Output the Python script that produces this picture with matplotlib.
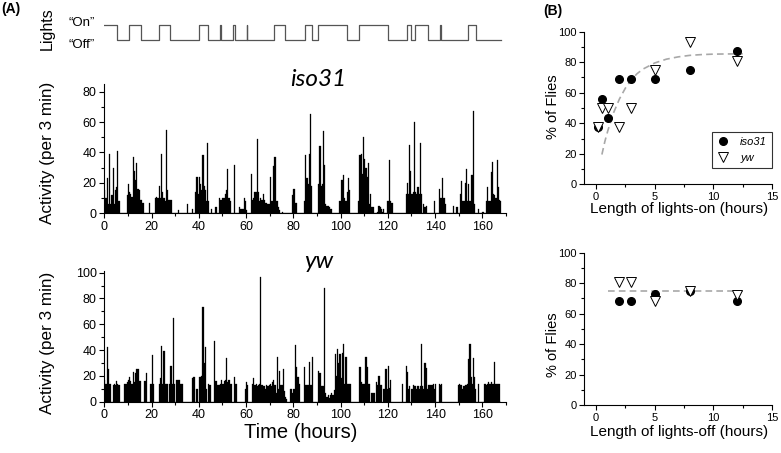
import numpy as np
import matplotlib
matplotlib.use("Agg")
import matplotlib.pyplot as plt
from matplotlib.ticker import MultipleLocator

plt.rcParams['font.family'] = ['Liberation Sans', 'DejaVu Sans']

# lights schedule: switch times (hours), state of each segment (1 = on, 0 = off)
light_edges = [0, 5.5, 10.3, 15.4, 23.1, 27.9, 40.0, 43.7, 49.1, 49.3, 54.3, 55.4,
               60.3, 60.5, 71.9, 76.4, 84.8, 87.8, 90.6, 102.9, 107.8, 120.0, 128.1,
               129.9, 131.6, 136.9, 142.1, 142.3, 154.0, 157.5, 168.0]
light_states = [1, 0, 1, 0, 1, 0, 1, 0, 1, 0, 1, 0, 1, 0, 1, 0, 1, 0, 1, 0, 1, 0,
                1, 0, 1, 0, 1, 0, 1, 0]

bin_width = 0.5
iso31_activity = [
    15, 10, 23, 6, 39, 6, 12, 30, 6, 15, 17, 41, 8, 0, 0, 0, 0, 0, 0, 12, 19, 14, 13, 11,
    37, 28, 22, 33, 16, 15, 9, 9, 7, 7, 0, 0, 0, 0, 7, 0, 0, 0, 0, 10, 11, 10, 18, 10,
    39, 14, 10, 8, 55, 15, 9, 9, 9, 0, 0, 0, 0, 0, 2, 0, 0, 0, 0, 0, 0, 0, 6, 0,
    0, 0, 3, 0, 0, 14, 24, 13, 24, 19, 15, 38, 18, 15, 8, 46, 8, 0, 3, 0, 0, 0, 4, 0,
    0, 10, 9, 9, 10, 10, 13, 15, 29, 10, 8, 0, 0, 0, 32, 0, 0, 0, 4, 3, 3, 3, 10, 8,
    2, 0, 0, 0, 26, 9, 10, 14, 14, 49, 14, 8, 10, 9, 13, 9, 7, 7, 6, 6, 24, 8, 8, 31,
    37, 8, 8, 4, 2, 0, 1, 0, 0, 0, 0, 0, 0, 0, 0, 12, 16, 7, 7, 0, 0, 0, 0, 0,
    0, 8, 38, 23, 19, 39, 65, 18, 0, 0, 0, 0, 0, 19, 44, 18, 19, 54, 32, 6, 5, 5, 4, 3,
    3, 0, 0, 0, 0, 0, 0, 8, 22, 22, 25, 10, 8, 14, 23, 15, 0, 0, 0, 0, 0, 0, 0, 8,
    38, 39, 26, 50, 36, 30, 24, 33, 6, 13, 4, 4, 0, 0, 0, 1, 5, 4, 3, 1, 3, 0, 0, 8,
    8, 35, 8, 7, 0, 0, 0, 0, 0, 0, 0, 0, 0, 0, 0, 13, 20, 13, 45, 28, 13, 14, 60, 14,
    13, 17, 13, 46, 13, 0, 6, 4, 5, 0, 0, 0, 0, 0, 0, 8, 0, 0, 0, 16, 10, 10, 23, 10,
    6, 0, 0, 0, 0, 0, 0, 5, 0, 0, 4, 0, 0, 13, 21, 8, 8, 20, 29, 8, 19, 8, 25, 25,
    67, 6, 0, 0, 3, 0, 0, 0, 1, 0, 0, 8, 17, 8, 8, 27, 34, 13, 12, 10, 35, 17, 9, 8,
]
yw_activity = [
    17, 14, 42, 25, 14, 14, 0, 13, 14, 13, 16, 14, 13, 0, 0, 0, 0, 14, 14, 15, 17, 19, 16, 14,
    23, 15, 22, 25, 25, 16, 16, 0, 0, 0, 16, 22, 0, 0, 0, 14, 36, 14, 0, 0, 0, 0, 14, 18,
    43, 14, 39, 14, 14, 14, 0, 14, 28, 14, 65, 14, 0, 17, 17, 17, 14, 14, 14, 0, 0, 0, 0, 0,
    0, 0, 18, 19, 19, 0, 10, 0, 19, 19, 20, 73, 30, 42, 10, 0, 14, 13, 0, 0, 0, 47, 16, 13,
    13, 13, 14, 17, 14, 16, 17, 34, 15, 17, 14, 14, 0, 0, 19, 14, 0, 0, 0, 0, 0, 0, 0, 10,
    15, 13, 0, 0, 0, 14, 18, 13, 14, 12, 13, 14, 97, 13, 12, 12, 10, 13, 12, 13, 14, 12, 15, 17,
    13, 7, 35, 10, 24, 13, 13, 25, 8, 4, 2, 0, 0, 10, 10, 7, 10, 44, 27, 19, 19, 14, 0, 0,
    0, 27, 13, 13, 13, 31, 13, 13, 35, 0, 0, 0, 0, 24, 22, 12, 12, 12, 88, 7, 4, 5, 3, 5,
    7, 5, 9, 37, 20, 41, 30, 37, 18, 38, 45, 14, 35, 14, 14, 14, 14, 0, 0, 0, 0, 0, 0, 0,
    27, 15, 14, 14, 14, 35, 27, 14, 14, 0, 7, 7, 7, 0, 15, 13, 20, 13, 13, 0, 10, 10, 25, 10,
    28, 11, 17, 0, 0, 0, 0, 0, 0, 0, 0, 0, 14, 0, 0, 28, 23, 10, 12, 0, 10, 13, 12, 12,
    10, 12, 10, 12, 45, 12, 10, 30, 26, 10, 13, 13, 13, 13, 14, 10, 14, 0, 0, 14, 13, 14, 0, 0,
    0, 0, 0, 0, 0, 0, 0, 0, 0, 0, 0, 13, 14, 13, 13, 10, 12, 13, 13, 14, 33, 45, 19, 14,
    34, 19, 10, 0, 14, 0, 0, 0, 0, 14, 14, 13, 14, 15, 14, 15, 14, 14, 31, 14, 14, 14, 14, 0,
]

# (B) percent of flies vs length of lights-on
on_len_iso = [0.17, 0.5, 1, 2, 3, 5, 8, 12]
on_pct_iso = [37.5, 56, 43.5, 69, 69, 69, 75, 87.5]
on_len_yw = [0.17, 0.5, 1, 2, 3, 5, 8, 12]
on_pct_yw = [37.5, 50, 50, 37.5, 50, 75, 93.5, 81]
on_fit_x = [0.5, 0.75, 1, 1.5, 2, 2.5, 3, 3.5, 4, 5, 6, 7, 8, 9, 10, 11, 12.5]
on_fit_y = [19.5, 28, 35, 47, 56, 63, 68.5, 72.5, 75.5, 79.5, 82, 83.5, 84.5, 85, 85.3, 85.4, 85.5]

# (B) percent of flies vs length of lights-off
off_len_iso = [2, 3, 5, 8, 12]
off_pct_iso = [68.5, 68.5, 73, 75, 68.5]
off_len_yw = [2, 3, 5, 8, 12]
off_pct_yw = [81, 81, 68.5, 75, 72.5]
off_fit_x = [1, 12.5]
off_fit_y = [74.6, 74.6]


def style_axes(ax, labelsize):
    ax.spines['top'].set_visible(False)
    ax.spines['right'].set_visible(False)
    ax.tick_params(which='both', direction='out', labelsize=labelsize, width=0.8, pad=2)
    ax.tick_params(which='major', length=3.5)
    ax.tick_params(which='minor', length=2)


fig = plt.figure(figsize=(7.81, 4.53), dpi=100)
W, H = 781.0, 453.0

# lights trace
ax_l = fig.add_axes([104.3 / W, 1 - 45 / H, 401.7 / W, 25 / H])
ax_l.step(light_edges, light_states + [light_states[-1]], where='post', color='#555555', lw=0.9)
ax_l.set_xlim(0, 170)
ax_l.set_ylim(-0.333, 1.333)
ax_l.axis('off')

t = np.arange(len(iso31_activity)) * bin_width

ax1 = fig.add_axes([104.3 / W, 1 - 213.3 / H, 401.7 / W, 129.3 / H])
ax1.bar(t, iso31_activity, width=bin_width, align='edge', color='black', edgecolor='black', linewidth=0.2)
ax1.set_xlim(0, 170)
ax1.set_ylim(0, 85)
ax1.xaxis.set_major_locator(MultipleLocator(20))
ax1.xaxis.set_minor_locator(MultipleLocator(10))
ax1.yaxis.set_major_locator(MultipleLocator(20))
ax1.yaxis.set_minor_locator(MultipleLocator(10))
style_axes(ax1, 9)

ax2 = fig.add_axes([104.3 / W, 1 - 401.7 / H, 401.7 / W, 131 / H])
ax2.bar(t, yw_activity, width=bin_width, align='edge', color='black', edgecolor='black', linewidth=0.2)
ax2.set_xlim(0, 170)
ax2.set_ylim(0, 101.5)
ax2.xaxis.set_major_locator(MultipleLocator(20))
ax2.xaxis.set_minor_locator(MultipleLocator(10))
ax2.yaxis.set_major_locator(MultipleLocator(20))
ax2.yaxis.set_minor_locator(MultipleLocator(10))
style_axes(ax2, 9)

# right panels
ax3 = fig.add_axes([584.3 / W, 1 - 184.3 / H, 187.7 / W, 152.6 / H])
ax3.plot(on_fit_x, on_fit_y, color='#a8a8a8', lw=1.2, dashes=(4, 2.5), zorder=2)
ax3.plot(on_len_iso, on_pct_iso, 'o', color='black', ms=5.5, label='iso31', zorder=3)
ax3.plot(on_len_yw, on_pct_yw, 'v', mfc='white', mec='black', mew=0.7, ms=7, label='yw', zorder=4)
leg = ax3.legend(loc='lower right', bbox_to_anchor=(1.0, 0.105), prop={'style': 'italic', 'size': 8},
                 fancybox=False, edgecolor='black', borderpad=0.45, labelspacing=0.6,
                 handlelength=1.2, handletextpad=0.9, borderaxespad=0)
leg.get_frame().set_linewidth(0.8)

ax4 = fig.add_axes([584.3 / W, 1 - 405 / H, 187.7 / W, 152.3 / H])
ax4.plot(off_fit_x, off_fit_y, color='#a8a8a8', lw=1.2, dashes=(4, 2.5), zorder=2)
ax4.plot(off_len_iso, off_pct_iso, 'o', color='black', ms=5.5, zorder=3)
ax4.plot(off_len_yw, off_pct_yw, 'v', mfc='white', mec='black', mew=0.7, ms=7, zorder=4)

for ax in (ax3, ax4):
    ax.set_xlim(-1, 15)
    ax.set_ylim(0, 100)
    ax.xaxis.set_major_locator(MultipleLocator(5))
    ax.xaxis.set_minor_locator(MultipleLocator(2.5))
    ax.yaxis.set_major_locator(MultipleLocator(20))
    ax.yaxis.set_minor_locator(MultipleLocator(10))
    style_axes(ax, 8)

# texts
fig.text(11 / W, 1 - 9 / H, '(A)', fontsize=10, weight='bold', ha='center', va='center')
fig.text(553 / W, 1 - 11.5 / H, '(B)', fontsize=10, weight='bold', ha='center', va='center')
fig.text(47 / W, 1 - 29 / H, 'Lights', fontsize=11.5, rotation=90, ha='center', va='center')
fig.text(82 / W, 1 - 23.5 / H, '\u201cOn\u201d', fontsize=9.5, ha='center', va='center')
fig.text(82 / W, 1 - 45 / H, '\u201cOff\u201d', fontsize=9.5, ha='center', va='center')
fig.text(318 / W, 1 - 80 / H, 'iso31', fontsize=17.5, style='italic', family='Lato', ha='center', va='center')
fig.text(319 / W, 1 - 261 / H, 'yw', fontsize=17.5, style='italic', family='Lato', ha='center', va='center')
fig.text(47.7 / W, 1 - 152.5 / H, 'Activity (per 3 min)', fontsize=12.3, rotation=90, ha='center', va='center')
fig.text(47.7 / W, 1 - 343 / H, 'Activity (per 3 min)', fontsize=12.3, rotation=90, ha='center', va='center')
fig.text(301 / W, 1 - 432 / H, 'Time (hours)', fontsize=14.5, ha='center', va='center')
fig.text(553 / W, 1 - 107 / H, '% of Flies', fontsize=10.5, rotation=90, ha='center', va='center')
fig.text(553 / W, 1 - 345 / H, '% of Flies', fontsize=10.5, rotation=90, ha='center', va='center')
fig.text(679 / W, 1 - 209 / H, 'Length of lights-on (hours)', fontsize=11, ha='center', va='center')
fig.text(679 / W, 1 - 431.7 / H, 'Length of lights-off (hours)', fontsize=11, ha='center', va='center')

fig.savefig('out.png', dpi=100)
